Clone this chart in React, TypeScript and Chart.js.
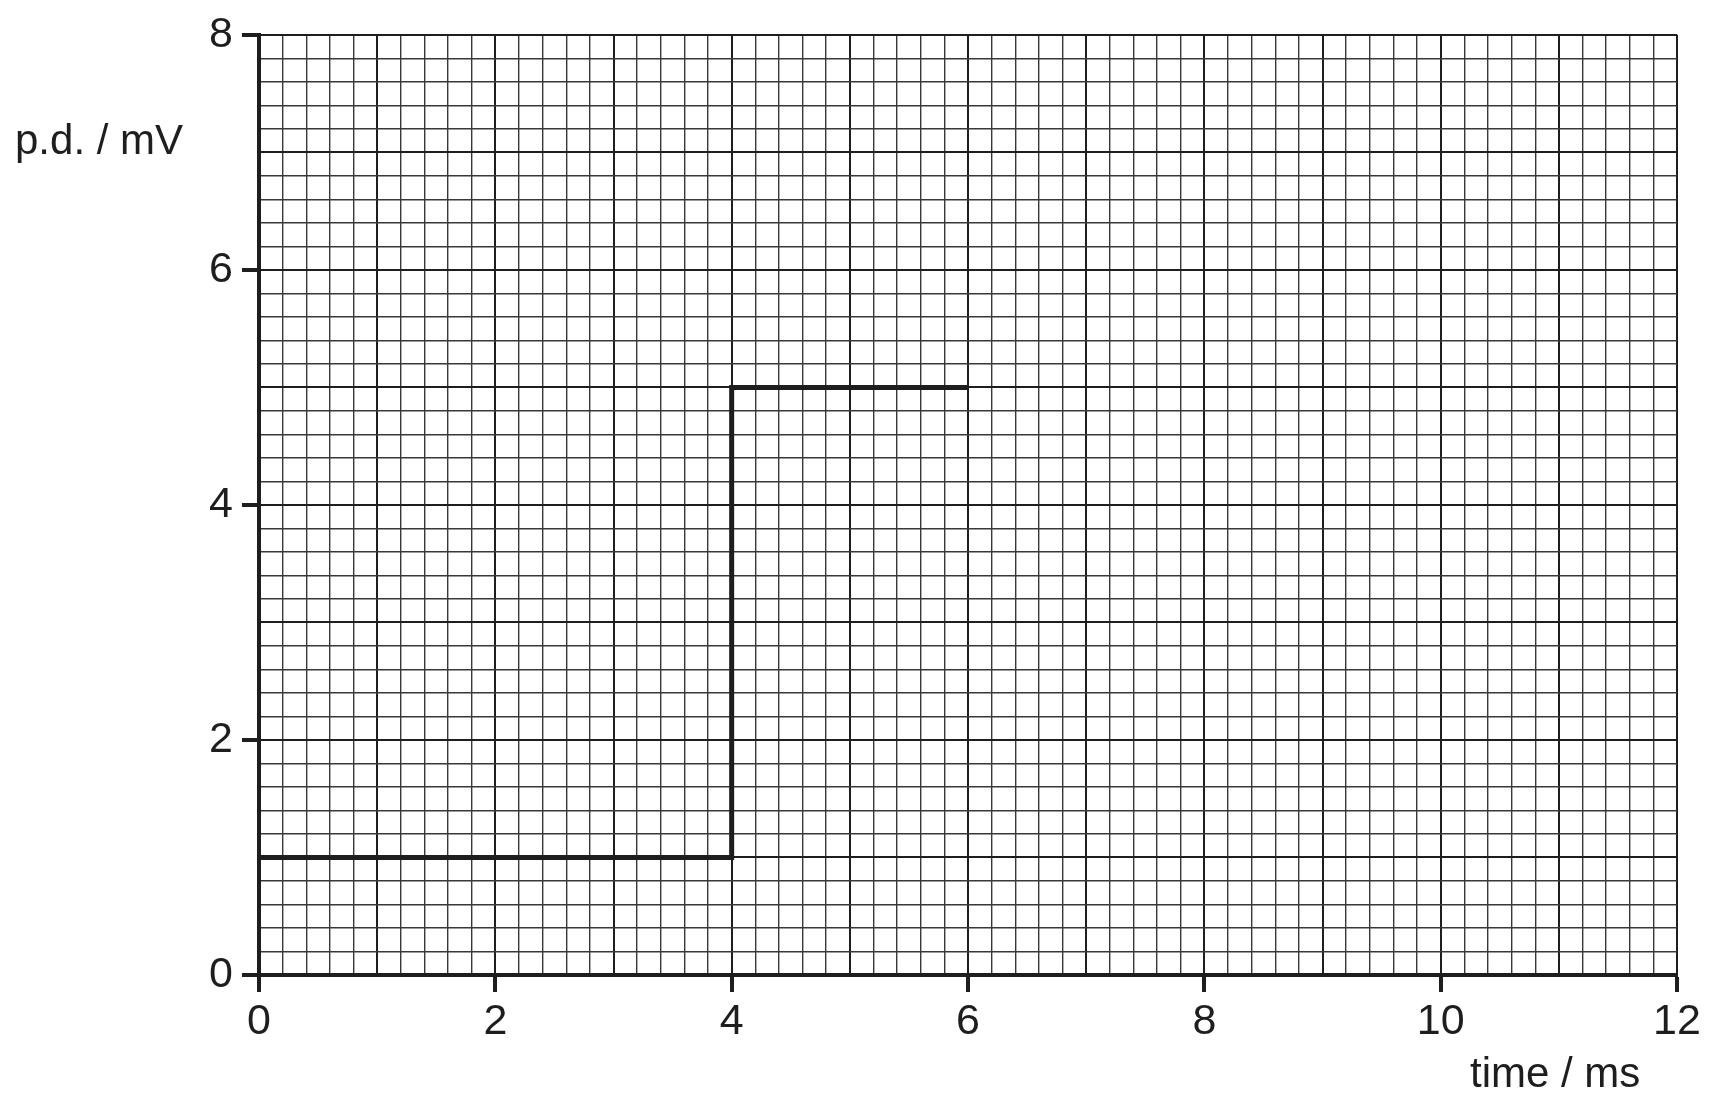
import React, { useEffect, useRef } from 'react';
import { Chart, registerables } from 'chart.js';

Chart.register(...registerables);

// step trace: p.d. holds 1 mV until 4 ms, then 5 mV until 6 ms
const time = [0, 4, 6];
const pd = [1, 5, 5];

const xTickLabels = [0, 2, 4, 6, 8, 10, 12];
const yTickLabels = [0, 2, 4, 6, 8];

const INK = '#1e1e1e';
const FONT = '"Liberation Sans", Arial, Helvetica, sans-serif';

const isOn = (v: number, list: number[]) => list.some(t => Math.abs(t - v) < 1e-6);
const isInt = (v: number) => Math.abs(v - Math.round(v)) < 1e-6;

const gridFor = (labels: number[]) => ({
    display: true,
    drawOnChartArea: true,
    drawTicks: true,
    tickLength: 17,
    color: (c: any) => (isInt(c.tick.value) ? INK : '#383838'),
    lineWidth: (c: any) => (isInt(c.tick.value) ? 2 : 1.4),
    tickColor: (c: any) => (isOn(c.tick.value, labels) ? INK : 'rgba(0,0,0,0)'),
    tickWidth: (c: any) => (isOn(c.tick.value, labels) ? 4 : 0),
});

const App = () => {
    const canvasRef = useRef<HTMLCanvasElement>(null);

    useEffect(() => {
        if (!canvasRef.current) return;
        const ctx = canvasRef.current.getContext('2d');
        if (!ctx) return;

        const chart = new Chart(ctx, {
            type: 'line',
            data: {
                datasets: [
                    {
                        data: time.map((t, i) => ({ x: t, y: pd[i] })),
                        stepped: 'before',
                        borderColor: INK,
                        borderWidth: 5,
                        borderJoinStyle: 'miter',
                        pointRadius: 0,
                        fill: false,
                        clip: 10,
                    },
                ],
            },
            options: {
                animation: false,
                responsive: false,
                devicePixelRatio: 1,
                layout: { padding: { top: 30, right: 35, left: 0, bottom: 0 } },
                plugins: {
                    legend: { display: false },
                    tooltip: { enabled: false },
                    title: { display: false },
                },
                scales: {
                    x: {
                        type: 'linear',
                        min: 0,
                        max: 12,
                        afterFit: (s: any) => { s.height = 133; },
                        border: { display: true, width: 4, color: INK },
                        grid: gridFor(xTickLabels),
                        ticks: {
                            stepSize: 0.2,
                            autoSkip: false,
                            maxRotation: 0,
                            padding: 4,
                            color: INK,
                            font: { family: FONT, size: 43 },
                            callback: (v: any) => (isOn(Number(v), xTickLabels) ? String(Math.round(Number(v))) : ''),
                        },
                    },
                    y: {
                        type: 'linear',
                        min: 0,
                        max: 8,
                        afterFit: (s: any) => { s.width = 259; },
                        border: { display: true, width: 4, color: INK },
                        grid: gridFor(yTickLabels),
                        ticks: {
                            stepSize: 0.2,
                            autoSkip: false,
                            padding: 9,
                            color: INK,
                            font: { family: FONT, size: 43 },
                            callback: (v: any) => (isOn(Number(v), yTickLabels) ? String(Math.round(Number(v))) : ''),
                        },
                    },
                },
            },
        });

        return () => chart.destroy();
    }, []);

    const title: React.CSSProperties = {
        position: 'absolute',
        fontFamily: FONT,
        fontSize: 42,
        lineHeight: 1,
        color: INK,
        whiteSpace: 'nowrap',
    };

    return (
        <div style={{ position: 'absolute', left: 0, top: 0, width: 1712, height: 1108, background: '#fff' }}>
            <canvas ref={canvasRef} width={1712} height={1108} />
            <div style={{ ...title, left: 15, top: 119 }}>p.d. / mV</div>
            <div style={{ ...title, left: 1470, top: 1052 }}>time / ms</div>
        </div>
    );
};

export default App;
